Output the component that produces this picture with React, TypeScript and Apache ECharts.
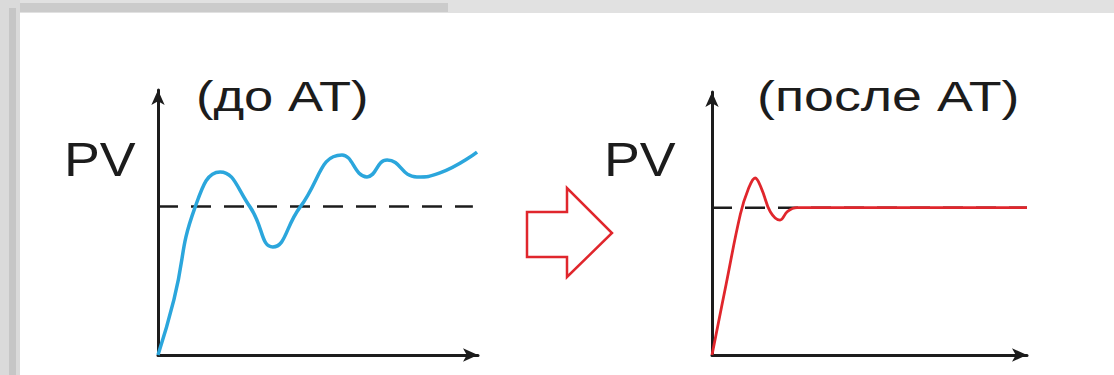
import React, { useEffect, useRef } from "react";
import * as echarts from "echarts";

// Process value response before auto-tuning (time, PV)
const beforeTime = [0, 5.0, 11.6, 19.4, 28.8, 35.9, 44.4, 57.5, 65.3, 71.6, 80.9, 88.1, 99.7];
const beforePV = [0, 21.0, 55.8, 69.1, 55.8, 40.8, 55.8, 75.5, 67.2, 73.6, 67.2, 68.7, 76.6];

// Process value response after auto-tuning (time, PV)
const afterTime = [0, 4.5, 9.0, 11.5, 13.7, 15.8, 18.5, 21.6, 24.0, 27.0, 60.0, 100.0];
const afterPV = [0, 27.0, 53.5, 63.0, 67.3, 63.0, 54.5, 51.3, 54.6, 56.0, 56.0, 56.0];

// Set point level and the span of the dashed set-point line
const setPoint = 56;
const spanBefore = [0, 98.4];
const spanAfter = [0, 100];

const titles = ["(до AT)", "(после AT)"];
const axisName = "PV";

const BLUE = "#2ba6dc";
const RED = "#e0262c";
const INK = "#1c1c1c";

const pairs = (xs: number[], ys: number[]) => xs.map((x, i) => [x, ys[i]]);

const axisCommon = {
  type: "value" as const,
  min: 0,
  max: 100,
  axisLine: {
    show: true,
    symbol: ["none", "arrow"],
    symbolSize: [10, 15],
    lineStyle: { color: INK, width: 3 },
  },
  axisTick: { show: false },
  axisLabel: { show: false },
  splitLine: { show: false },
};

export default function App() {
  const ref = useRef<HTMLDivElement>(null);

  useEffect(() => {
    if (!ref.current) return;
    const chart = echarts.init(ref.current, undefined, { renderer: "svg" });
    const font = "'Liberation Sans', Arial, Helvetica, sans-serif";

    chart.setOption({
      animation: false,
      backgroundColor: "#ffffff",
      grid: [
        { left: 158, top: 90, width: 320, height: 265 },
        { left: 712, top: 92, width: 315, height: 263 },
      ],
      xAxis: [
        { ...axisCommon, gridIndex: 0 },
        { ...axisCommon, gridIndex: 1 },
      ],
      yAxis: [
        { ...axisCommon, gridIndex: 0 },
        { ...axisCommon, gridIndex: 1 },
      ],
      series: [
        {
          type: "line",
          xAxisIndex: 0,
          yAxisIndex: 0,
          data: spanBefore.map((x) => [x, setPoint]),
          showSymbol: false,
          lineStyle: { color: INK, width: 2.5, type: [20, 13] },
          z: 2,
        },
        {
          type: "line",
          xAxisIndex: 0,
          yAxisIndex: 0,
          data: pairs(beforeTime, beforePV),
          smooth: 0.5,
          showSymbol: false,
          clip: false,
          lineStyle: { color: BLUE, width: 3.5 },
          z: 3,
        },
        {
          type: "line",
          xAxisIndex: 1,
          yAxisIndex: 1,
          data: spanAfter.map((x) => [x, setPoint]),
          showSymbol: false,
          lineStyle: { color: INK, width: 2.5, type: [20, 13] },
          z: 2,
        },
        {
          type: "line",
          xAxisIndex: 1,
          yAxisIndex: 1,
          data: pairs(afterTime, afterPV),
          smooth: 0.4,
          showSymbol: false,
          clip: false,
          lineStyle: { color: RED, width: 2.8 },
          z: 3,
        },
      ],
      graphic: [
        // grey frame around the white panel
        { type: "rect", shape: { x: 0, y: 0, width: 1114, height: 13 }, style: { fill: "#e1e1e1" }, silent: true },
        { type: "rect", shape: { x: 8, y: 3, width: 440, height: 9 }, style: { fill: "#cbcbcb" }, silent: true },
        { type: "rect", shape: { x: 0, y: 0, width: 20, height: 375 }, style: { fill: "#dadada" }, silent: true },
        { type: "rect", shape: { x: 9, y: 8, width: 7, height: 367 }, style: { fill: "#c6c6c6" }, silent: true },
        // axis names and titles
        {
          type: "text", x: 64, y: 160, scaleX: 1.12,
          style: { text: axisName, font: `48px ${font}`, fill: INK, textAlign: "left", textVerticalAlign: "middle" },
        },
        {
          type: "text", x: 604, y: 160, scaleX: 1.12,
          style: { text: axisName, font: `48px ${font}`, fill: INK, textAlign: "left", textVerticalAlign: "middle" },
        },
        {
          type: "text", x: 196, y: 96, scaleX: 1.25,
          style: { text: titles[0], font: `42px ${font}`, fill: INK, textAlign: "left", textVerticalAlign: "middle" },
        },
        {
          type: "text", x: 757, y: 96, scaleX: 1.28,
          style: { text: titles[1], font: `42px ${font}`, fill: INK, textAlign: "left", textVerticalAlign: "middle" },
        },
        // hollow arrow between the two plots
        {
          type: "polygon",
          shape: {
            points: [
              [527, 212], [567, 212], [567, 188], [612, 233], [567, 277], [567, 257], [527, 257],
            ],
          },
          style: { fill: "#ffffff", stroke: RED, lineWidth: 2.5, lineJoin: "miter" },
        },
      ],
    });

    return () => chart.dispose();
  }, []);

  return (
    <div
      ref={ref}
      style={{ position: "fixed", left: 0, top: 0, width: 1114, height: 375 }}
    />
  );
}
